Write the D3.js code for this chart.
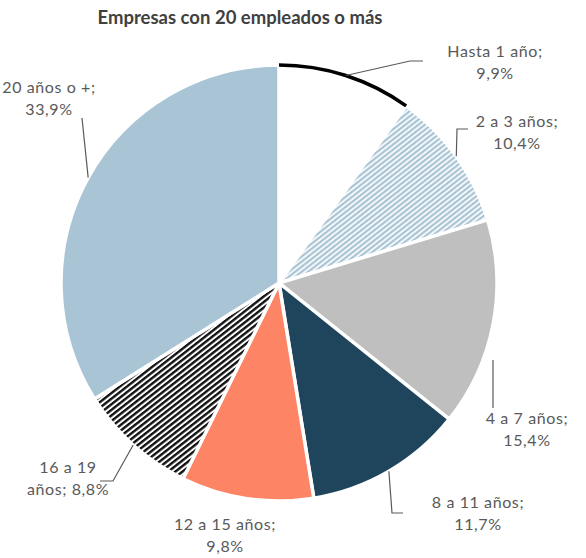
<!DOCTYPE html>
<html>
<head>
<meta charset="utf-8">
<script src="https://cdn.jsdelivr.net/npm/d3@7"></script>
<style>
  body { margin: 0; background: #fff; }
  text { font-family: Lato, "Open Sans", sans-serif; }
</style>
</head>
<body>
<div id="chart"></div>
<script>
// data
const categories = ["Hasta 1 año", "2 a 3 años", "4 a 7 años", "8 a 11 años", "12 a 15 años", "16 a 19 años", "20 años o +"];
const shares = [9.9, 10.4, 15.4, 11.7, 9.8, 8.8, 33.9];
const valueLabels = ["9,9%", "10,4%", "15,4%", "11,7%", "9,8%", "8,8%", "33,9%"];
const title = "Empresas con 20 empleados o más";

const width = 586, height = 558;
const cx = 279, cy = 283, radius = 218;

const svg = d3.select("#chart").append("svg")
    .attr("width", width)
    .attr("height", height);

// hatch patterns
const defs = svg.append("defs");
const hatch = (id, color, period, thick) => {
  const p = defs.append("pattern")
      .attr("id", id)
      .attr("patternUnits", "userSpaceOnUse")
      .attr("width", 10)
      .attr("height", period)
      .attr("patternTransform", "rotate(-38)");
  p.append("rect").attr("width", 10).attr("height", period).attr("fill", "#fff");
  p.append("rect").attr("width", 10).attr("height", thick).attr("fill", color);
};
hatch("hatchBlue", "#a9c4d4", 4, 2.3);
hatch("hatchBlack", "#111", 4.4, 2.4);

const fills = ["#ffffff", "url(#hatchBlue)", "#bfbfbf", "#1f455c", "#fe8466", "url(#hatchBlack)", "#a9c4d4"];

svg.append("text")
    .attr("x", 240)
    .attr("y", 24)
    .attr("text-anchor", "middle")
    .attr("font-size", 18.5)
    .attr("font-weight", "bold")
    .attr("fill", "#404040")
    .text(title);

const pie = d3.pie().sort(null).value(d => d)(shares);
const arc = d3.arc().innerRadius(0).outerRadius(radius);

const g = svg.append("g").attr("transform", `translate(${cx},${cy})`);

g.selectAll("path.slice")
  .data(pie)
  .enter()
  .append("path")
    .attr("class", "slice")
    .attr("d", arc)
    .attr("fill", (d, i) => fills[i])
    .attr("stroke", (d, i) => i === 0 ? "#aaa" : "#fff")
    .attr("stroke-width", (d, i) => i === 0 ? 0.8 : 3.5);

// thick black rim on the first slice
const first = pie[0];
g.append("path")
    .attr("d", d3.arc().innerRadius(radius).outerRadius(radius)(first))
    .attr("fill", "none")
    .attr("stroke", "#000")
    .attr("stroke-width", 3.5);

// point on the rim at mid angle of a slice
const rim = d => {
  const a = (d.startAngle + d.endAngle) / 2;
  return [cx + radius * Math.sin(a), cy - radius * Math.cos(a)];
};

// label layout: text centre and leader points (start = rim unless given)
const layout = [
  { x: 495, y: 57, leader: [[410, 61], [423, 61]] },
  { x: 517, y: 127, leader: [[457, 129], [468, 129]] },
  { x: 527, y: 424, start: [493, 360], leader: [[493, 408]] },
  { x: 478, y: 508, leader: [[392, 513], [403, 513]] },
  { x: 225, y: 530, leader: null },
  { x: 68, y: 473, leader: [[113, 481], [100, 481]] },
  { x: 49, y: 93, leader: [[82, 118]] }
];

const line = d3.line();
pie.forEach((d, i) => {
  const L = layout[i];
  if (L.leader) {
    svg.append("path")
        .attr("d", line([L.start || rim(d)].concat(L.leader)))
        .attr("fill", "none")
        .attr("stroke", "#595959")
        .attr("stroke-width", 1.2);
  }
  const lines = i === 5 ? ["16 a 19", "años; 8,8%"] : [categories[i] + ";", valueLabels[i]];
  const t = svg.append("text")
      .attr("text-anchor", "middle")
      .attr("font-size", 16)
      .attr("letter-spacing", 0.6)
      .attr("fill", "#595959");
  lines.forEach((s, k) => {
    t.append("tspan")
        .attr("x", L.x)
        .attr("y", L.y + k * 21.5)
        .text(s);
  });
});
</script>
</body>
</html>
